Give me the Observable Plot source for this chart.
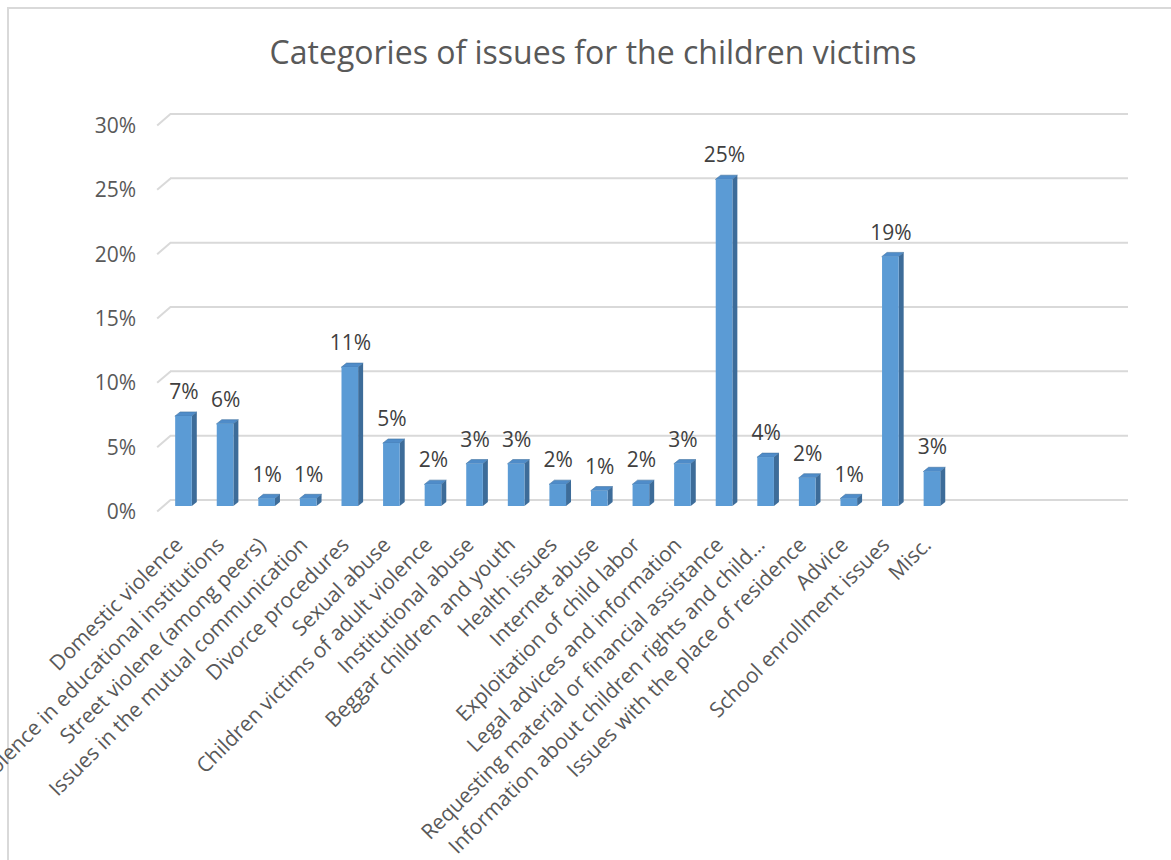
<!DOCTYPE html>
<html>
<head>
<meta charset="utf-8">
<script src="https://cdn.jsdelivr.net/npm/d3@7"></script>
<script src="https://cdn.jsdelivr.net/npm/@observablehq/plot@0.6"></script>
<style>
  html, body { margin: 0; padding: 0; background: #fff; }
  #wrap { position: relative; width: 1171px; height: 860px; overflow: hidden; font-family: "Open Sans", sans-serif; }
  #frame { position: absolute; left: 7px; top: 7px; width: 1164px; height: 853px; border-left: 2px solid #d9d9d9; border-top: 2px solid #d9d9d9; box-sizing: border-box; }
  #title { position: absolute; left: 0; top: 0; width: 1186px; height: 95px; text-align: center; font-size: 32px; line-height: 104px; color: #595959; }
  #chart { position: absolute; left: 0; top: 95px; }
</style>
</head>
<body>
<div id="wrap">
  <div id="frame"></div>
  <div id="title">Categories of issues for the children victims</div>
  <div id="chart"></div>
</div>
<script>
const categories = [
  "Domestic violence",
  "Violence in educational institutions",
  "Street violene (among peers)",
  "Issues in the mutual communication",
  "Divorce procedures",
  "Sexual abuse",
  "Children victims of adult violence",
  "Institutional abuse",
  "Beggar children and youth",
  "Health issues",
  "Internet abuse",
  "Exploitation of child labor",
  "Legal advices and information",
  "Requesting material or financial assistance",
  "Information about children rights and child…",
  "Issues with the place of residence",
  "Advice",
  "School enrollment issues",
  "Misc."
];
const values = [7.0, 6.4, 0.6, 0.6, 10.8, 4.9, 1.7, 3.3, 3.3, 1.7, 1.2, 1.7, 3.3, 25.4, 3.8, 2.2, 0.6, 19.4, 2.7];
const yTicks = [0, 5, 10, 15, 20, 25, 30];

const data = categories.map((c, i) => ({i, c, v: values[i]}));

// 3D geometry (in scale units)
const half = 0.2, sideW = 0.12, depth = 0.31;
const sidePts = data.flatMap(d => [
  {i: d.i, x: d.i + half, y1: 0, y2: d.v},
  {i: d.i, x: d.i + half + sideW, y1: depth, y2: d.v + depth}
]);
const topPts = data.flatMap(d => [
  {i: d.i, y: d.v, x1: d.i - half, x2: d.i + half},
  {i: d.i, y: d.v + depth, x1: d.i - half + sideW, x2: d.i + half + sideW}
]);

const grid = "#d9d9d9";
const chart = Plot.plot({
  width: 1171,
  height: 765,
  marginTop: 25,
  marginBottom: 354,
  marginLeft: 158,
  marginRight: 43,
  style: {fontFamily: "'Open Sans', sans-serif", background: "transparent", overflow: "visible"},
  x: {type: "linear", domain: [-0.613, 22.715], axis: null},
  y: {domain: [0, 30], axis: null},
  marks: [
    Plot.ruleY(yTicks, {y: d => d, x1: -0.325, x2: 22.715, dy: -6.5, stroke: grid, strokeWidth: 2}),
    Plot.link(yTicks, {x1: -0.645, y1: d => d - 0.39, x2: -0.325, y2: d => d + 0.5, stroke: grid, strokeWidth: 2}),
    Plot.text(yTicks, {x: -0.645, y: d => d - 0.45, text: d => d + "%", textAnchor: "end", dx: -21, fontSize: 21, fill: "#595959"}),
    Plot.areaY(sidePts, {x: "x", y1: "y1", y2: "y2", z: "i", fill: "#3d6c99"}),
    Plot.areaX(topPts, {y: "y", x1: "x1", x2: "x2", z: "i", fill: "#4f8cc9", stroke: "#41729f", strokeWidth: 0.6}),
    Plot.rectY(data, {x1: d => d.i - half, x2: d => d.i + half, y1: 0, y2: "v", fill: "#5b9bd5"}),
    Plot.text(data, {x: "i", y: "v", text: d => Math.round(d.v) + "%", dy: -24, fontSize: 21, fill: "#404040"}),
    Plot.text(data, {x: "i", y: 0, text: "c", rotate: -45, textAnchor: "end", dx: -4.75, dy: 35, fontSize: 21, fill: "#595959"})
  ]
});
document.getElementById("chart").appendChild(chart);
</script>
</body>
</html>
